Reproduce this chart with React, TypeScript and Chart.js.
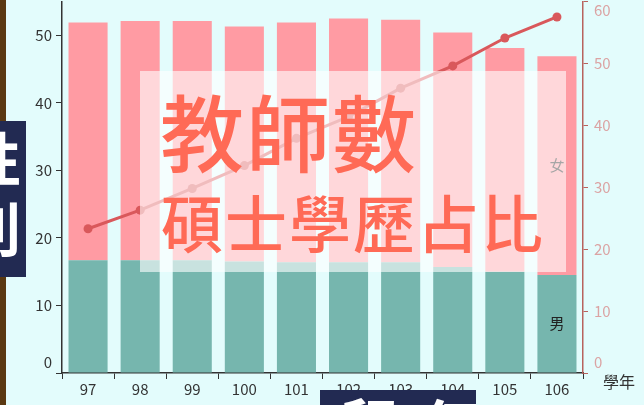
import React, { useEffect, useRef } from "react";
import { Chart, registerables } from "chart.js";

Chart.register(...registerables);

const FONT = '"Noto Sans CJK TC", "Noto Sans", sans-serif';

// Data
const years = ["97", "98", "99", "100", "101", "102", "103", "104", "105", "106"];
const maleTeachers = [16.7, 16.7, 16.7, 16.5, 16.4, 16.4, 16.4, 15.7, 15.0, 14.5];
const femaleTeachers = [35.2, 35.4, 35.4, 34.8, 35.5, 36.1, 35.9, 34.7, 33.1, 32.4];
const masterRatio = [23.3, 26.3, 29.8, 33.5, 37.9, 41.4, 46.0, 49.6, 54.1, 57.5];
const seriesNames = ["男", "女", "碩士學歷占比"];
const xAxisTitle = "學年";
const titleLine1 = "教師數";
const titleLine2 = "碩士學歷占比";
const sideLabel = ["性", "別"];
const bottomLabel = "留任";

const LEFT_COLOR = "#333333";
const RIGHT_LINE = "#b8625d";
const RIGHT_TEXT = "#dba3a3";

const extrasPlugin = {
  id: "extras",
  afterDatasetsDraw(chart: any) {
    const ctx = chart.ctx;
    ctx.save();
    ctx.font = `15px ${FONT}`;
    ctx.fillStyle = "#222";
    ctx.textAlign = "center";
    ctx.textBaseline = "middle";
    [0, 1].forEach((i) => {
      const meta = chart.getDatasetMeta(i);
      const el = meta.data[meta.data.length - 1];
      if (!el) return;
      const p = el.getProps(["x", "y", "base"], true);
      ctx.fillText(chart.data.datasets[i].label, p.x, (p.y + p.base) / 2);
    });
    ctx.restore();
  },
  afterDraw(chart: any) {
    const ctx = chart.ctx;
    const area = chart.chartArea;
    const yl = chart.scales.y;
    const yr = chart.scales.y1;
    ctx.save();
    ctx.font = `15px ${FONT}`;
    ctx.textBaseline = "middle";
    // edge tick labels pulled inward
    ctx.fillStyle = LEFT_COLOR;
    ctx.textAlign = "right";
    ctx.fillText("0", area.left - 10, yl.getPixelForValue(0) - 11);
    ctx.fillStyle = RIGHT_TEXT;
    ctx.textAlign = "left";
    ctx.fillText("0", area.right + 11, yr.getPixelForValue(0) - 11);
    ctx.fillText("60", area.right + 11, yr.getPixelForValue(60) + 9);
    // x-axis title at the right end
    ctx.fillStyle = "#333";
    ctx.font = `16px ${FONT}`;
    ctx.textAlign = "center";
    ctx.fillText(xAxisTitle, area.right + 36, area.bottom + 9);
    ctx.restore();
  },
};

export default function App() {
  const ref = useRef<HTMLCanvasElement | null>(null);

  useEffect(() => {
    document.body.style.margin = "0";
    if (!ref.current) return;
    const chart = new Chart(ref.current, {
      type: "bar",
      data: {
        labels: years,
        datasets: [
          {
            type: "bar",
            label: seriesNames[0],
            data: maleTeachers,
            backgroundColor: "#76b6ae",
            yAxisID: "y",
            stack: "t",
            order: 1,
            barPercentage: 0.75,
            categoryPercentage: 1,
          },
          {
            type: "bar",
            label: seriesNames[1],
            data: femaleTeachers,
            backgroundColor: "#ff9ba3",
            yAxisID: "y",
            stack: "t",
            order: 1,
            barPercentage: 0.75,
            categoryPercentage: 1,
          },
          {
            type: "line",
            label: seriesNames[2],
            data: masterRatio,
            borderColor: "#d9585b",
            backgroundColor: "#d9585b",
            borderWidth: 3,
            pointRadius: 4.5,
            pointBorderWidth: 0,
            yAxisID: "y1",
            order: 0,
          },
        ],
      },
      options: {
        responsive: false,
        animation: false,
        layout: { padding: 0 },
        plugins: { legend: { display: false }, tooltip: { enabled: false } },
        scales: {
          x: {
            offset: true,
            stacked: true,
            grid: {
              drawOnChartArea: false,
              drawTicks: true,
              tickLength: 6,
              color: "#333",
              offset: true,
            },
            border: { color: "#333", width: 1.5 },
            ticks: { color: "#333", font: { size: 15, family: FONT }, padding: 1 },
            afterFit: (s: any) => {
              s.height = 32;
              s.paddingLeft = 0;
              s.paddingRight = 0;
            },
          },
          y: {
            position: "left",
            stacked: true,
            min: 0,
            max: 55,
            ticks: {
              stepSize: 10,
              color: (c: any) => (c.tick && c.tick.value === 0 ? "rgba(0,0,0,0)" : LEFT_COLOR),
              font: { size: 15, family: FONT },
              padding: 4,
            },
            afterBuildTicks: (s: any) => {
              s.ticks = s.ticks.filter((t: any) => t.value % 10 === 0);
            },
            grid: { drawOnChartArea: false, tickLength: 6, color: "#333" },
            border: { color: "#333", width: 1.5 },
            afterFit: (s: any) => {
              s.width = 62;
              s.paddingTop = 0;
              s.paddingBottom = 0;
            },
          },
          y1: {
            position: "right",
            min: 0,
            max: 60,
            ticks: {
              stepSize: 10,
              color: (c: any) =>
                c.tick && (c.tick.value === 0 || c.tick.value === 60) ? "rgba(0,0,0,0)" : RIGHT_TEXT,
              font: { size: 15, family: FONT },
              padding: 6,
            },
            grid: { drawOnChartArea: false, tickLength: 5, color: RIGHT_LINE },
            border: { color: RIGHT_LINE, width: 1.5 },
            afterFit: (s: any) => {
              s.width = 61;
              s.paddingTop = 0;
              s.paddingBottom = 0;
            },
          },
        },
      },
      plugins: [extrasPlugin],
    } as any);
    return () => chart.destroy();
  }, []);

  return (
    <div
      style={{
        position: "fixed",
        left: 0,
        top: 0,
        width: 644,
        height: 405,
        background: "#e3fcfc",
        overflow: "hidden",
        fontFamily: FONT,
      }}
    >
      <div style={{ position: "absolute", left: 0, top: 0, width: 6, height: 405, background: "#5a3912" }} />
      <canvas ref={ref} width={644} height={408} style={{ position: "absolute", left: 0, top: -3 }} />
      <div
        style={{
          position: "absolute",
          left: 140,
          top: 71,
          width: 426,
          height: 201,
          background: "rgba(255,255,255,0.6)",
        }}
      />
      <div
        style={{
          position: "absolute",
          left: 160,
          top: 88,
          fontSize: 84,
          lineHeight: "84px",
          fontWeight: 500,
          color: "#ff6a56",
          letterSpacing: 2,
          whiteSpace: "nowrap",
        }}
      >
        {titleLine1}
      </div>
      <div
        style={{
          position: "absolute",
          left: 161,
          top: 190,
          fontSize: 62,
          lineHeight: "62px",
          fontWeight: 500,
          color: "#ff6a56",
          letterSpacing: 2,
          whiteSpace: "nowrap",
        }}
      >
        {titleLine2}
      </div>
      <div
        style={{
          position: "absolute",
          left: 0,
          top: 121,
          width: 26,
          height: 156,
          background: "#222a52",
          overflow: "hidden",
        }}
      >
        <div
          style={{
            position: "absolute",
            left: -37,
            top: 0,
            fontSize: 58,
            lineHeight: "70px",
            fontWeight: 700,
            color: "#fff",
          }}
        >
          {sideLabel.map((c) => (
            <div key={c}>{c}</div>
          ))}
        </div>
      </div>
      <div
        style={{
          position: "absolute",
          left: 320,
          top: 390,
          width: 156,
          height: 20,
          background: "#222a52",
          overflow: "hidden",
        }}
      >
        <div
          style={{
            position: "absolute",
            left: 18,
            top: 4,
            fontSize: 60,
            lineHeight: "60px",
            fontWeight: 700,
            color: "#fff",
            letterSpacing: 23,
            whiteSpace: "nowrap",
          }}
        >
          {bottomLabel}
        </div>
      </div>
    </div>
  );
}
